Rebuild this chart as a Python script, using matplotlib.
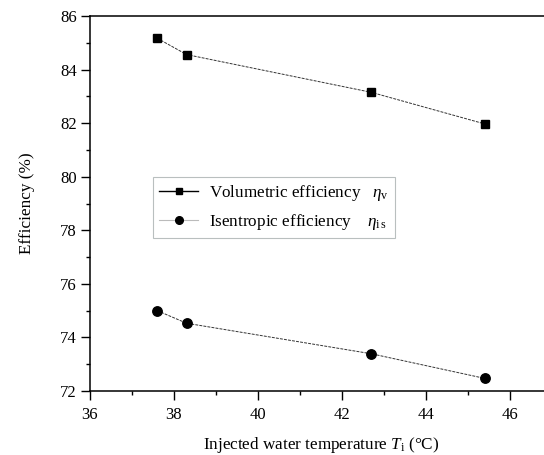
import matplotlib
matplotlib.use("Agg")
import matplotlib.pyplot as plt
from matplotlib.ticker import MultipleLocator
from matplotlib.lines import Line2D

plt.rcParams['font.family'] = ['Liberation Serif', 'DejaVu Serif']
plt.rcParams['mathtext.fontset'] = 'custom'
plt.rcParams['mathtext.rm'] = 'Liberation Serif'
plt.rcParams['mathtext.it'] = 'Liberation Serif:italic'

temps = [37.6, 38.3, 42.7, 45.4]
vol_eff = [85.17, 84.56, 83.15, 81.97]
isen_eff = [75.0, 74.53, 73.39, 72.47]
vol_label = r"Volumetric efficiency  $\ \eta_\mathrm{v}$"
isen_label = r"Isentropic efficiency  $\ \ \eta_\mathrm{i\,s}$"

W, H = 544, 455
fig = plt.figure(figsize=(W/100, H/100), dpi=100)
ax = fig.add_axes([90/W, (H-391)/H, 462/W, 375/H])

ls = (0, (3, 1.2))
ax.plot(temps, vol_eff, color='#333333', lw=0.7, linestyle=ls,
        marker='s', ms=6.3, mfc='black', mec='black', label=vol_label)
ax.plot(temps, isen_eff, color='#333333', lw=0.7, linestyle=ls,
        marker='o', ms=6.8, mfc='black', mec='black', label=isen_label)

ax.set_xlim(36, 47)
ax.set_ylim(72, 86)
ax.xaxis.set_major_locator(MultipleLocator(2))
ax.xaxis.set_minor_locator(MultipleLocator(1))
ax.yaxis.set_major_locator(MultipleLocator(2))
ax.yaxis.set_minor_locator(MultipleLocator(1))
ax.tick_params(which='major', direction='out', length=6.5, width=1.0, labelsize=12, pad=3)
ax.tick_params(axis='x', which='major', pad=5)
ax.tick_params(which='minor', direction='out', length=3, width=1.0)
for s in ax.spines.values():
    s.set_linewidth(1.1)

ax.set_xlabel(r"Injected water temperature $T_\mathrm{i}$ (°C)", fontsize=12.3, labelpad=9)
ax.set_ylabel("Efficiency (%)", fontsize=12.3, labelpad=18)

h1 = Line2D([], [], color='black', lw=1.0, marker='s', ms=5, mfc='black', mec='black')
h2 = Line2D([], [], color='#bbbbbb', lw=0.8, marker='o', ms=5.5, mfc='black', mec='black')
leg = ax.legend([h1, h2], [vol_label, isen_label], loc='upper left',
                bbox_to_anchor=(153/W, (H-177)/H), bbox_transform=fig.transFigure,
                fontsize=12.3, frameon=True, fancybox=False, borderpad=0.35,
                handlelength=2.3, handletextpad=0.65, labelspacing=0.5, borderaxespad=0)
leg.get_frame().set_edgecolor('#a8b0b0')
leg.get_frame().set_linewidth(0.8)

fig.savefig("out.png", dpi=100)
